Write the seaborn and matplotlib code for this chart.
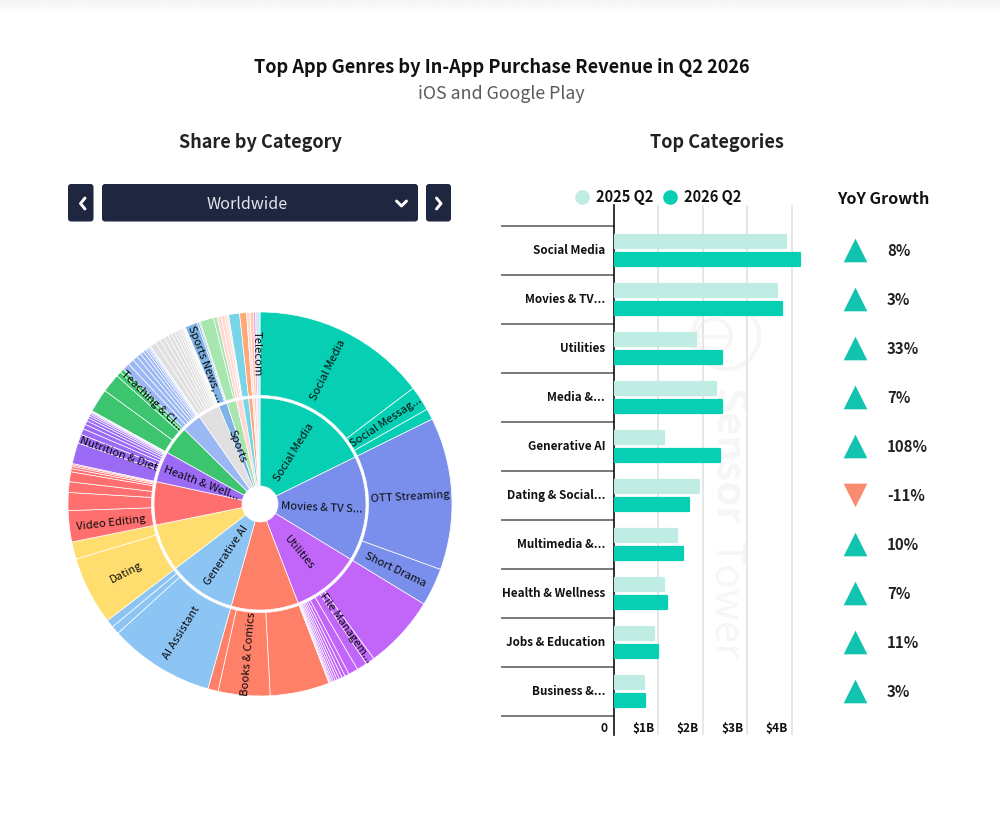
import numpy as np
import pandas as pd
import matplotlib
matplotlib.use("Agg")
import matplotlib.pyplot as plt
from matplotlib.patches import FancyBboxPatch, Circle
from matplotlib.lines import Line2D
from matplotlib.transforms import ScaledTranslation
import seaborn as sns

sns.set_theme(style="white")
plt.rcParams['font.family'] = ['Noto Sans CJK SC', 'DejaVu Sans']

# ---------------- data ----------------
categories = ["Social Media", "Movies & TV...", "Utilities", "Media &...", "Generative AI",
              "Dating & Social...", "Multimedia &...", "Health & Wellness", "Jobs & Education", "Business &..."]
rev_2025 = [3.88, 3.68, 1.85, 2.31, 1.14, 1.92, 1.43, 1.13, 0.91, 0.69]
rev_2026 = [4.19, 3.79, 2.44, 2.44, 2.39, 1.70, 1.56, 1.20, 1.00, 0.71]
growth = [8, 3, 33, 7, 108, -11, 10, 7, 11, 3]

group_names = ["Social Media", "Movies & TV S...", "Utilities", "", "Generative AI", "", "",
               "Health & Well...", "", "", "", "", "", "", "", "", "", "", "", ""]
group_colors = ["#06CFB4", "#7A8FEB", "#C266FA", "#FF8068", "#8CC4F4", "#FFDD6E", "#FF6F6F",
                "#9B6BF5", "#3CC46F", "#9BB8F5", "#E0E0E0", "#7FB3E5", "#A8E6B0", "#FFD9D2",
                "#78D5E8", "#FFA878", "#FFD9D2", "#FFC9A8", "#E79BE8", "#CFE6F7"]
leaf_values = [
    [14.61, 2.08, 0.92],
    [12.75, 3.17],
    [6.14, 0.75, 0.86, 0.81, 0.36, 0.28, 0.24, 0.20, 0.18, 0.16, 0.13, 0.11, 0.09, 0.06],
    [4.97, 4.33, 0.86],
    [8.83, 0.69, 0.67],
    [5.72, 1.44],
    [2.61, 1.50, 0.89, 0.83, 0.26, 0.19, 0.14, 0.10],
    [1.75, 0.75, 0.50, 0.40, 0.32, 0.26, 0.20, 0.16, 0.12, 0.09, 0.06, 0.04],
    [1.97, 1.58, 0.42, 0.33],
    [0.62, 0.50, 0.42, 0.36, 0.30, 0.24, 0.18, 0.14, 0.10, 0.08],
    [0.50, 0.44, 0.40, 0.36, 0.32, 0.28, 0.24, 0.20, 0.16, 0.13, 0.10, 0.08, 0.05, 0.02],
    [1.05, 0.15, 0.10],
    [1.15, 0.29],
    [0.35, 0.30, 0.20, 0.12],
    [0.92],
    [0.58],
    [0.28],
    [0.28],
    [0.19],
    [0.36],
]
leaf_names = {
    (0, 0): "Social Media", (0, 1): "Social Messag...", (1, 0): "OTT Streaming", (1, 1): "Short Drama",
    (2, 1): "File Managem...", (3, 1): "Books & Comics", (4, 0): "AI Assistant", (5, 0): "Dating",
    (6, 0): "Video Editing", (7, 1): "Nutrition & Diet", (8, 3): "Teaching & Cl...",
    (11, 0): "Sports News, ...", (19, 0): "Telecom",
}

# ---------------- figure ----------------
W, H = 1000, 830
fig = plt.figure(figsize=(W / 100, H / 100), dpi=100, facecolor="white")

def px_axes(x0, y0, x1, y1, **kw):
    return fig.add_axes([x0 / W, 1 - y1 / H, (x1 - x0) / W, (y1 - y0) / H], **kw)

# background overlay in pixel coordinates
bg = px_axes(0, 0, W, H, zorder=0)
bg.set_xlim(0, W); bg.set_ylim(H, 0); bg.axis("off")
grad = np.linspace(0.955, 1, 14)[:, None]
bg.imshow(grad, extent=(0, W, 14, 0), cmap="gray", vmin=0, vmax=1, aspect="auto", zorder=0)
bg.set_xlim(0, W); bg.set_ylim(H, 0)

bg.text(501.5, 67.5, "Top App Genres by In-App Purchase Revenue in Q2 2026", ha="center", va="center",
        fontsize=13.1, fontweight="bold", color="#111111")
bg.text(501.5, 94, "iOS and Google Play", ha="center", va="center", fontsize=12.8, color="#5a5a5a")
bg.text(260.5, 143, "Share by Category", ha="center", va="center", fontsize=13, fontweight="bold", color="#222222")
bg.text(717, 143, "Top Categories", ha="center", va="center", fontsize=13, fontweight="bold", color="#222222")

navy = "#1E2640"
for x0, x1 in [(68, 93.5), (102, 418), (426, 451)]:
    bg.add_patch(FancyBboxPatch((x0 + 2, 186), x1 - x0 - 4, 33.5, boxstyle="round,pad=2,rounding_size=3",
                                fc=navy, ec="none"))
bg.text(247, 204.5, "Worldwide", ha="center", va="center", fontsize=11.6, color="#E4E6EC")
for xs, ys in [([85, 80.5, 85], [198, 203.5, 209]), ([436.5, 441, 436.5], [198, 203.5, 209]),
               ([396.5, 401.5, 406.5], [201, 206, 201])]:
    bg.plot(xs, ys, color="white", lw=2.1, solid_capstyle="round", solid_joinstyle="round")

# watermark
wm = "#F6F6F6"
bg.add_patch(Circle((726, 336), 33, fc="none", ec=wm, lw=3))
bg.add_patch(Circle((714, 336), 17, fc="none", ec=wm, lw=2.5))
bg.plot([698, 731], [336, 336], color=wm, lw=2.5)
bg.text(726, 456, "Sensor", rotation=-90, ha="center", va="center", fontsize=29, color=wm, fontweight="bold")
bg.text(726, 600, "Tower", rotation=-90, ha="center", va="center", fontsize=29, color=wm)

# ---------------- sunburst (nested pies) ----------------
R = 192.0
pie_ax = px_axes(260 - R - 2, 504 - R - 2, 260 + R + 2, 504 + R + 2, zorder=2)
pie_ax.set_facecolor("none")
outer_vals, outer_cols = [], []
for vals, col in zip(leaf_values, group_colors):
    outer_vals += vals
    outer_cols += [col] * len(vals)
inner_vals = [sum(v) for v in leaf_values]
out_in = 108.5 / R
in_out = 106 / R
in_in = 18 / R
outer_w, _ = pie_ax.pie(outer_vals, colors=outer_cols, radius=1, startangle=90, counterclock=False,
                        wedgeprops=dict(width=1 - out_in, edgecolor="white", linewidth=0.5))
inner_w, _ = pie_ax.pie(inner_vals, colors=group_colors, radius=in_out, startangle=90, counterclock=False,
                        wedgeprops=dict(width=in_out - in_in, edgecolor="white", linewidth=0.5))
pie_ax.set_xlim(-(R + 2) / R, (R + 2) / R)
pie_ax.set_ylim(-(R + 2) / R, (R + 2) / R)
pie_ax.set_aspect("equal")


def radial_label(ax, name, mid_deg, r, size=8.1):
    """mid_deg is matplotlib's polar angle of the wedge centre."""
    a = np.deg2rad(mid_deg)
    rot = mid_deg % 360
    if 90 < rot < 270:
        rot -= 180
    elif rot >= 270:
        rot -= 360
    ax.text(r * np.cos(a), r * np.sin(a), name, rotation=rot, rotation_mode="anchor",
            ha="center", va="center_baseline", fontsize=size, color="#0a0a0a", zorder=5)


for name, w in zip(group_names, inner_w):
    if name:
        radial_label(pie_ax, name, (w.theta1 + w.theta2) / 2, (in_in + in_out) / 2)
radial_label(pie_ax, "Sports", (inner_w[11].theta1 + inner_w[11].theta2) / 2, (in_in + in_out) / 2)

idx = 0
for g, vals in enumerate(leaf_values):
    for j in range(len(vals)):
        if (g, j) in leaf_names:
            w = outer_w[idx]
            radial_label(pie_ax, leaf_names[(g, j)], (w.theta1 + w.theta2) / 2, (out_in + 1) / 2)
        idx += 1

# ---------------- bars ----------------
x0_px, px_per_b = 613.5, 44.5
y_top, y_bot, row = 226.0, 716.0, 49.0
ax = px_axes(x0_px, 205, 810, 735, zorder=3)
ax.set_facecolor("none")
df = pd.DataFrame({
    "Category": categories * 2,
    "Revenue": rev_2025 + rev_2026,
    "Quarter": ["2025 Q2"] * 10 + ["2026 Q2"] * 10,
})
c25, c26 = "#BFEDE3", "#06CFB4"
sns.barplot(data=df, y="Category", x="Revenue", hue="Quarter", order=categories,
            palette={"2025 Q2": c25, "2026 Q2": c26}, orient="h", width=0.74, gap=0.24,
            ax=ax, legend=False, saturation=1, zorder=3)
for p in ax.patches:
    p.set_edgecolor(p.get_facecolor())
    p.set_linewidth(1.6)
    p.set_joinstyle("round")
ax.set_xlim(0, (810 - x0_px) / px_per_b)
ax.set_ylim(-0.5 + (735 - y_top) / row - 0, -0.5 - (y_top - 205) / row)
ax.set_xlabel(""); ax.set_ylabel("")
for s in ["top", "right", "bottom"]:
    ax.spines[s].set_visible(False)
ax.spines["left"].set_color("#111111")
ax.spines["left"].set_linewidth(1.2)
ax.set_xticks([0, 1, 2, 3, 4])
ax.set_xticklabels([])
ax.tick_params(axis="both", length=0)
ax.grid(False)
for v in [1, 2, 3, 4]:
    ax.axvline(v, color="#E6E6E6", lw=1.4, zorder=1)
ax.set_yticks(range(10))
ax.set_yticklabels(categories, fontsize=8.4, fontweight="bold", color="#111111")
ax.tick_params(axis="y", pad=6)
lift = ScaledTranslation(0, 0.8 / 72, fig.dpi_scale_trans)
for lab in ax.get_yticklabels():
    lab.set_transform(lab.get_transform() + lift)
sep_left = (501 - x0_px) / (810 - x0_px)
for i in range(11):
    ax.plot([sep_left, 0], [i - 0.5, i - 0.5], transform=ax.get_yaxis_transform(), color="#555555",
            lw=1.1, clip_on=False, solid_capstyle="butt")
ax.text(-0.03, 9.5 + 12 / row, "0", transform=ax.get_yaxis_transform(), ha="right", va="center",
        fontsize=8.6, fontweight="bold", color="#111111")
for v, lab in zip([1, 2, 3, 4], ["$1B", "$2B", "$3B", "$4B"]):
    ax.text(v - 0.08, 9.5 + 12 / row, lab, ha="right", va="center", fontsize=8.6, fontweight="bold", color="#111111")

handles = [Line2D([], [], marker="o", ls="", ms=9.5, color=c25), Line2D([], [], marker="o", ls="", ms=9.5, color=c26)]
fig.legend(handles, ["2025 Q2", "2026 Q2"], ncol=2, frameon=False, loc="center",
           bbox_to_anchor=(658 / W, 1 - 197 / H), handlelength=1, handletextpad=0.5, columnspacing=0.6,
           prop=dict(size=10.5, weight="bold"), labelcolor="#111111")

# ---------------- YoY growth ----------------
yo = px_axes(835, 205, 940, 735, zorder=3)
yo.set_facecolor("none")
yo.axis("off")
yo.set_xlim(835, 940)
yo.set_ylim(ax.get_ylim())
ypos = np.arange(len(categories))
for y, g in zip(ypos, growth):
    up = g >= 0
    yo.scatter([855], [y - 0.02], marker="^" if up else "v", s=290, color="#12C4B0" if up else "#FA8A70",
               linewidths=0)
    yo.text(887, y, f"{g}%", ha="left", va="center", fontsize=10.8, fontweight="bold", color="#222222")
bg.text(883.5, 198.5, "YoY Growth", ha="center", va="center", fontsize=11.6, fontweight="bold", color="#111111")

fig.savefig("out.png", dpi=100, facecolor="white")
